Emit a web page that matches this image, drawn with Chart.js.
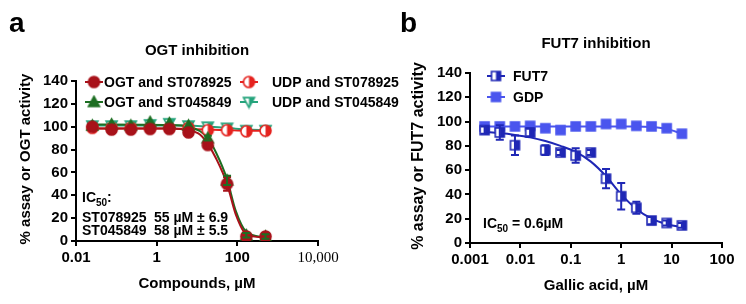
<!DOCTYPE html>
<html>
<head>
<meta charset="utf-8">
<script src="https://cdn.jsdelivr.net/npm/chart.js@4.4.1/dist/chart.umd.min.js"></script>
<style>
  html, body { margin: 0; padding: 0; background: #fff; }
  .panel { position: absolute; top: 0; height: 304px; }
</style>
</head>
<body>
<div class="panel" style="left:0;width:420px;z-index:1"><canvas id="ogt" width="420" height="304"></canvas></div>
<div class="panel" style="left:373px;width:373px;z-index:2"><canvas id="fut7" width="373" height="304"></canvas></div>
<script>
// ---- panel a : OGT inhibition ----
const ogtConc = [0.0254, 0.0762, 0.229, 0.686, 2.06, 6.17, 18.5, 55.6, 167, 500];
const ogtSt078925 = [100, 97.5, 97.5, 98, 98, 95, 84, 50, 4, 4];
const ogtSt078925Err = [1, 1, 1, 1, 1, 1, 2, 6, 2, 2];
const ogtSt045849 = [101, 102, 101, 104, 103, 101, 90, 53, 5, 4];
const ogtSt045849Err = [1, 1, 1, 1, 1, 1, 2, 4, 2, 2];
const udpSt078925 = [99, 99, 99, 99, 99, 99, 97, 97, 96, 96.5];
const udpSt045849 = [101, 101, 101, 102, 103, 101, 100, 99, 97, 97];

// fit curves
const ogtFitConc = [0.0254, 2.06, 6.17, 12, 18.5, 30, 55.6, 90, 167, 500];
const fitSt078925 = [98.5, 98.5, 97, 93, 85, 72, 50, 24, 6, 3];
const fitSt045849 = [102, 101.5, 100, 96, 90, 77, 54, 27, 8, 3];
const fitUdp078925 = [98.5, 98.5, 98.5, 98.5, 98.5, 98, 97.5, 97, 96.5, 96.5];
const fitUdp045849 = [101, 101, 101, 101, 101, 101, 100, 99, 97.5, 97];

const ogtTicks = [0.01, 1, 100, 10000];
const ogtTickLabels = ['0.01', '1', '100', '10,000'];

// ---- panel b : FUT7 inhibition ----
const futConc = [0.00195, 0.0039, 0.0078, 0.0156, 0.03125, 0.0625, 0.125, 0.25, 0.5, 1, 2, 4, 8, 16];
const fut7 = [93, 91, 80.5, 91, 76.5, 74.5, 72, 74.5, 53, 38.5, 29, 18.5, 16.5, 14.5];
const fut7Err = [3, 6, 8, 3, 4, 2, 6, 2, 8, 11, 5, 3, 2, 2];
const gdp = [96, 96, 96, 96.5, 94.5, 93, 96, 96, 98, 98, 96.5, 96, 94.5, 90];
const fut7Fit = [91.5, 90.5, 89, 87, 84, 80, 75, 67, 55, 40, 28, 20, 15.5, 13];
const gdpFit = [96, 96, 96, 96, 96, 96, 96, 96, 96, 96, 96, 95.5, 94, 90];

const futTicks = [0.001, 0.01, 0.1, 1, 10, 100];
const futTickLabels = ['0.001', '0.01', '0.1', '1', '10', '100'];

const FONT = 'Arial, "Liberation Sans", Helvetica, sans-serif';
const DARKRED = '#a8121a';
const GREEN = '#1d6e22';
const RED = '#e5231f';
const TEAL = '#25a47c';
const BLUE = '#4a55ee';
const NAVY = '#1f27b5';

// markers drawn onto small canvases (filled, open or half filled)
function makeMarker(shape, color, size, mode) {
    const pad = 2;
    const c = document.createElement('canvas');
    c.width = c.height = size + pad * 2;
    const g = c.getContext('2d');
    const m = c.width / 2, r = size / 2;
    const path = () => {
        g.beginPath();
        if (shape === 'circle') g.arc(m, m, r, 0, Math.PI * 2);
        else if (shape === 'square') g.rect(m - r, m - r, size, size);
        else if (shape === 'up') { g.moveTo(m, m - r); g.lineTo(m + r, m + r * 0.8); g.lineTo(m - r, m + r * 0.8); g.closePath(); }
        else if (shape === 'down') { g.moveTo(m - r, m - r * 0.8); g.lineTo(m + r, m - r * 0.8); g.lineTo(m, m + r); g.closePath(); }
    };
    path();
    g.fillStyle = mode === 'fill' ? color : '#fff';
    g.fill();
    if (mode === 'half') {
        g.save(); path(); g.clip();
        g.fillStyle = color; g.fillRect(m, 0, m, c.height);
        g.restore();
    }
    path();
    g.lineWidth = 1.6; g.strokeStyle = color; g.stroke();
    return c;
}

const mk = {
    ogt78: makeMarker('circle', DARKRED, 11, 'fill'),
    ogt45: makeMarker('up', GREEN, 11, 'fill'),
    udp78: makeMarker('circle', RED, 11, 'half'),
    udp45: makeMarker('down', TEAL, 11, 'half'),
    fut7: makeMarker('square', NAVY, 9, 'half'),
    gdp: makeMarker('square', BLUE, 9, 'fill')
};

function pts(xs, ys) { return xs.map((x, i) => ({ x: x, y: ys[i] })); }

function pointSet(label, xs, ys, marker, color) {
    return { label: label, data: pts(xs, ys), showLine: false, pointStyle: marker, pointRadius: 5,
        borderColor: color, backgroundColor: color };
}
function fitSet(xs, ys, color) {
    return { data: pts(xs, ys), showLine: true, pointRadius: 0, borderColor: color, borderWidth: 2,
        cubicInterpolationMode: 'monotone', fill: false };
}

function text(ctx, str, x, y, size, align, weight) {
    ctx.font = (weight || 'bold') + ' ' + size + 'px ' + FONT;
    ctx.textAlign = align || 'left';
    ctx.textBaseline = 'alphabetic';
    ctx.fillStyle = '#000';
    ctx.fillText(str, x, y);
}

// IC50 style text with subscript
function icText(ctx, x, y, rest) {
    text(ctx, 'IC', x, y, 14);
    let w = ctx.measureText('IC').width;
    text(ctx, '50', x + w, y + 4, 10);
    w += ctx.measureText('50').width;
    text(ctx, rest, x + w, y, 14);
}

const decor = {
    id: 'decor',
    afterDatasetsDraw(chart, args, o) {
        const ctx = chart.ctx;
        const xs = chart.scales.x, ys = chart.scales.y;
        (o.errors || []).forEach(e => {
            ctx.save();
            ctx.strokeStyle = e.color; ctx.lineWidth = 2;
            e.x.forEach((xv, i) => {
                const px = xs.getPixelForValue(xv);
                const top = ys.getPixelForValue(e.y[i] + e.err[i]);
                const bot = ys.getPixelForValue(e.y[i] - e.err[i]);
                if (bot - top < 3) return;
                ctx.beginPath();
                ctx.moveTo(px, top); ctx.lineTo(px, bot);
                ctx.moveTo(px - 4, top); ctx.lineTo(px + 4, top);
                ctx.moveTo(px - 4, bot); ctx.lineTo(px + 4, bot);
                ctx.stroke();
            });
            ctx.restore();
        });
    },
    afterDraw(chart, args, o) {
        const ctx = chart.ctx;
        ctx.save();
        text(ctx, o.letter, o.letterX, 32, 28);
        text(ctx, o.title, o.titleX, o.titleY, 15, 'center');
        text(ctx, o.xTitle, o.titleX, o.xTitleY, 15, 'center');
        ctx.save();
        ctx.translate(o.yTitleX, o.yTitleY);
        ctx.rotate(-Math.PI / 2);
        ctx.font = 'bold ' + o.yTitleSize + 'px ' + FONT;
        ctx.textAlign = 'center'; ctx.textBaseline = 'middle'; ctx.fillStyle = '#000';
        ctx.fillText(o.yTitle, 0, 0);
        ctx.restore();
        // legend
        o.legend.forEach(l => {
            ctx.strokeStyle = l.color; ctx.lineWidth = 2;
            ctx.beginPath(); ctx.moveTo(l.x - 9, l.y); ctx.lineTo(l.x + 9, l.y); ctx.stroke();
            ctx.drawImage(l.marker, l.x - l.marker.width / 2, l.y - l.marker.height / 2);
            ctx.font = 'bold 14px ' + FONT;
            ctx.textAlign = 'left'; ctx.textBaseline = 'middle'; ctx.fillStyle = '#000';
            ctx.fillText(l.text, l.tx, l.y + 1);
        });
        o.notes(ctx);
        ctx.restore();
    }
};

function axes(ticks, labels, chartLeft, xHeight, lastSerif) {
    const tickFont = { family: FONT, size: 15, weight: 'bold' };
    return {
        x: {
            type: 'logarithmic', min: ticks[0], max: ticks[ticks.length - 1],
            afterBuildTicks: s => { s.ticks = ticks.map(v => ({ value: v })); },
            afterFit: s => { s.height = xHeight; },
            ticks: {
                autoSkip: false, maxRotation: 0, color: '#000', padding: 3,
                callback: (v, i) => labels[i],
                font: c => (lastSerif && c.index === ticks.length - 1)
                    ? { family: '"Liberation Serif", "Times New Roman", serif', size: 15, weight: 'normal' }
                    : tickFont
            },
            grid: { drawOnChartArea: false, tickLength: 5, color: '#000', lineWidth: 2 },
            border: { color: '#000', width: 2 }
        },
        y: {
            min: 0, max: 140,
            afterFit: s => { s.width = chartLeft; },
            ticks: { stepSize: 20, color: '#000', padding: 3, font: tickFont },
            grid: { drawOnChartArea: false, tickLength: 5, color: '#000', lineWidth: 2 },
            border: { color: '#000', width: 2 }
        }
    };
}

new Chart(document.getElementById('ogt'), {
    type: 'scatter',
    data: {
        datasets: [
            pointSet('OGT and ST078925', ogtConc, ogtSt078925, mk.ogt78, DARKRED),
            pointSet('OGT and ST045849', ogtConc, ogtSt045849, mk.ogt45, GREEN),
            pointSet('UDP and ST078925', ogtConc, udpSt078925, mk.udp78, RED),
            pointSet('UDP and ST045849', ogtConc, udpSt045849, mk.udp45, TEAL),
            fitSet(ogtFitConc, fitSt078925, DARKRED),
            fitSet(ogtFitConc, fitSt045849, GREEN),
            fitSet(ogtConc, fitUdp078925, RED),
            fitSet(ogtConc, fitUdp045849, TEAL)
        ]
    },
    options: {
        responsive: false, animation: false,
        layout: { padding: { top: 81, right: 102, left: 0, bottom: 0 } },
        scales: axes(ogtTicks, ogtTickLabels, 76, 63, true),
        plugins: {
            legend: { display: false }, tooltip: { enabled: false },
            decor: {
                letter: 'a', letterX: 9, title: 'OGT inhibition', titleX: 197, titleY: 55,
                xTitle: 'Compounds, µM', xTitleY: 288,
                yTitle: '% assay or OGT activity', yTitleX: 26, yTitleY: 159, yTitleSize: 15,
                legend: [
                    { text: 'OGT and ST078925', marker: mk.ogt78, color: DARKRED, x: 94, tx: 104, y: 82 },
                    { text: 'OGT and ST045849', marker: mk.ogt45, color: GREEN, x: 94, tx: 104, y: 102 },
                    { text: 'UDP and ST078925', marker: mk.udp78, color: RED, x: 249, tx: 272, y: 82 },
                    { text: 'UDP and ST045849', marker: mk.udp45, color: TEAL, x: 249, tx: 272, y: 102 }
                ],
                errors: [
                    { x: ogtConc, y: ogtSt078925, err: ogtSt078925Err, color: DARKRED },
                    { x: ogtConc, y: ogtSt045849, err: ogtSt045849Err, color: GREEN }
                ],
                notes: ctx => {
                    icText(ctx, 82, 202, ':');
                    text(ctx, 'ST078925', 82, 222, 14);
                    text(ctx, '55 µM ± 6.9', 154, 222, 14);
                    text(ctx, 'ST045849', 82, 235, 14);
                    text(ctx, '58 µM ± 5.5', 154, 235, 14);
                }
            }
        }
    },
    plugins: [decor]
});

new Chart(document.getElementById('fut7'), {
    type: 'scatter',
    data: {
        datasets: [
            pointSet('FUT7', futConc, fut7, mk.fut7, NAVY),
            pointSet('GDP', futConc, gdp, mk.gdp, BLUE),
            fitSet(futConc, fut7Fit, NAVY),
            fitSet(futConc, gdpFit, BLUE)
        ]
    },
    options: {
        responsive: false, animation: false,
        layout: { padding: { top: 73, right: 24, left: 0, bottom: 0 } },
        scales: axes(futTicks, futTickLabels, 97, 61, false),
        plugins: {
            legend: { display: false }, tooltip: { enabled: false },
            decor: {
                letter: 'b', letterX: 27, title: 'FUT7 inhibition', titleX: 223, titleY: 48,
                xTitle: 'Gallic acid, µM', xTitleY: 290,
                yTitle: '% assay or FUT7 activity', yTitleX: 46, yTitleY: 156, yTitleSize: 16,
                legend: [
                    { text: 'FUT7', marker: mk.fut7, color: NAVY, x: 123, tx: 140, y: 76 },
                    { text: 'GDP', marker: mk.gdp, color: BLUE, x: 123, tx: 140, y: 97 }
                ],
                errors: [
                    { x: futConc, y: fut7, err: fut7Err, color: NAVY }
                ],
                notes: ctx => {
                    icText(ctx, 110, 228, ' = 0.6µM');
                }
            }
        }
    },
    plugins: [decor]
});
</script>
</body>
</html>
